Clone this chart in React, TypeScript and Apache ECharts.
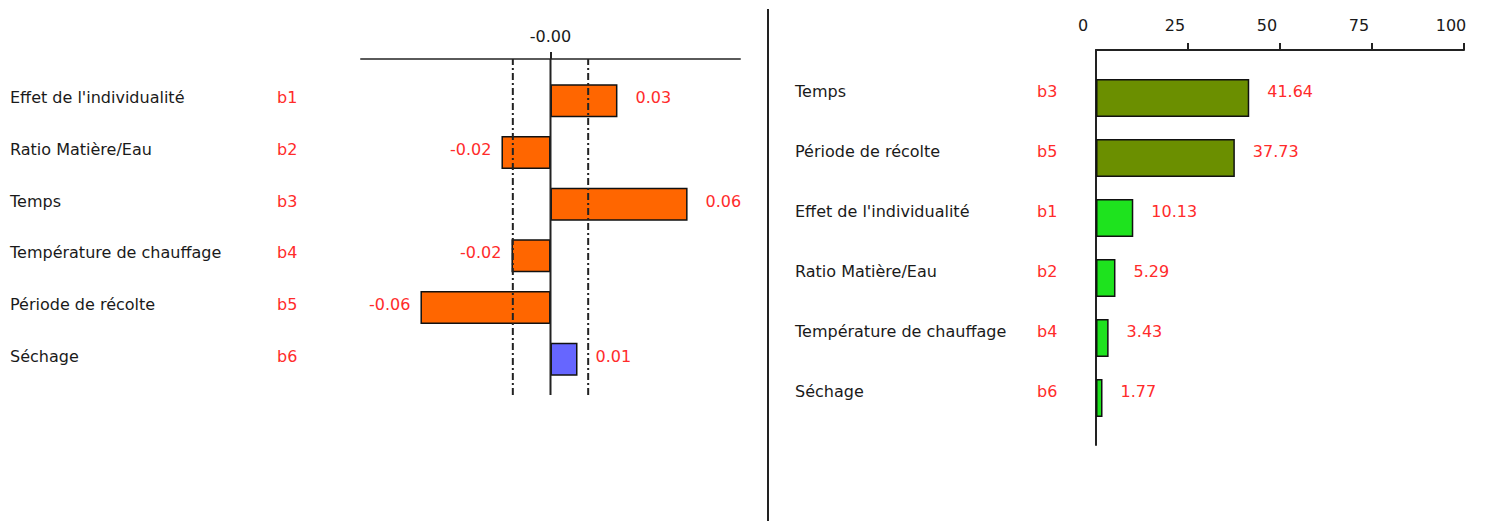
import React, { useEffect, useRef } from "react";
import * as echarts from "echarts";

// ---- Data ----
const leftCategories = [
  "Effet de l'individualité",
  "Ratio Matière/Eau",
  "Temps",
  "Température de chauffage",
  "Période de récolte",
  "Séchage",
];
const leftCodes = ["b1", "b2", "b3", "b4", "b5", "b6"];
const leftValues = [0.0295, -0.0216, 0.0604, -0.0172, -0.0573, 0.0119];
const leftLimits = [-0.0166, 0.0166];
const leftTickValues = [0];
const leftTickLabels = ["-0.00"];

const rightCategories = [
  "Temps",
  "Période de récolte",
  "Effet de l'individualité",
  "Ratio Matière/Eau",
  "Température de chauffage",
  "Séchage",
];
const rightCodes = ["b3", "b5", "b1", "b2", "b4", "b6"];
const rightValues = [41.64, 37.73, 10.13, 5.29, 3.43, 1.77];
const rightTickValues = [0, 25, 50, 75, 100];

// ---- Styles ----
const FONT = "DejaVu Sans";
const FS = 16;
const RED = "#ff2b2b";
const TXT = "#1a1a1a";
const ORANGE = "#ff6600";
const BLUE = "#6666ff";
const OLIVE = "#6b8f00";
const GREEN = "#1ee31e";

const L_MIN = -0.0835;
const L_MAX = 0.0835;

export default function App() {
  const ref = useRef<HTMLDivElement>(null);

  useEffect(() => {
    document.body.style.margin = "0";
    if (!ref.current) return;
    const chart = echarts.init(ref.current, null, { renderer: "svg" });

    const catLabel = (codes: string[], nameWidth: number, margin: number, shift: number) => ({
      show: true,
      align: "left" as const,
      margin,
      formatter: (v: string, i: number) => `{n|${v}}{c|${codes[i]}}`,
      rich: {
        n: { width: nameWidth, color: TXT, fontFamily: FONT, fontSize: FS, padding: [0, 0, shift, 0] },
        c: { color: RED, fontFamily: FONT, fontSize: FS, padding: [0, 0, shift, 0] },
      },
    });

    const option: any = {
      animation: false,
      backgroundColor: "#ffffff",
      textStyle: { fontFamily: FONT },
      grid: [
        { left: 361, width: 379, top: 75, height: 310 },
        { left: 361, width: 379, top: 59, height: 336 },
        { left: 1096, width: 368, top: 68, height: 360 },
        { left: 1096, width: 368, top: 50, height: 395 },
      ],
      xAxis: [
        { gridIndex: 0, type: "value", min: L_MIN, max: L_MAX, show: false },
        {
          gridIndex: 1,
          type: "value",
          min: L_MIN,
          max: L_MAX,
          position: "top",
          splitLine: { show: false },
          axisLine: { show: true, onZero: false, lineStyle: { color: "#5a5a5a", width: 2 } },
          axisTick: { show: true, customValues: leftTickValues, length: 7, lineStyle: { color: "#222", width: 2 } },
          axisLabel: {
            show: true,
            customValues: leftTickValues,
            margin: 15,
            color: TXT,
            fontFamily: FONT,
            fontSize: FS,
            formatter: (v: number) => leftTickLabels[leftTickValues.indexOf(v)] ?? "",
          },
        },
        { gridIndex: 2, type: "value", min: 0, max: 100, show: false },
        {
          gridIndex: 3,
          type: "value",
          min: 0,
          max: 100,
          interval: 25,
          position: "top",
          splitLine: { show: false },
          axisLine: { show: true, onZero: false, lineStyle: { color: "#222", width: 2 } },
          axisTick: { show: true, customValues: rightTickValues.slice(1), length: 7, lineStyle: { color: "#222", width: 2 } },
          axisLabel: {
            show: true,
            customValues: rightTickValues,
            margin: 17,
            color: TXT,
            fontFamily: FONT,
            fontSize: FS,
            padding: [0, 26, 0, 0],
          },
        },
      ],
      yAxis: [
        {
          gridIndex: 0,
          type: "category",
          inverse: true,
          data: leftCategories,
          axisLine: { show: false },
          axisTick: { show: false },
          splitLine: { show: false },
          axisLabel: catLabel(leftCodes, 267, 351, 6),
        },
        { gridIndex: 1, type: "value", min: 0, max: 1, show: false },
        {
          gridIndex: 2,
          type: "category",
          inverse: true,
          data: rightCategories,
          axisLine: { show: false },
          axisTick: { show: false },
          splitLine: { show: false },
          axisLabel: catLabel(rightCodes, 242, 301, 14),
        },
        {
          gridIndex: 3,
          type: "value",
          min: 0,
          max: 1,
          axisLine: { show: true, onZero: false, lineStyle: { color: "#222", width: 2 } },
          axisTick: { show: false },
          axisLabel: { show: false },
          splitLine: { show: false },
        },
      ],
      series: [
        {
          type: "bar",
          xAxisIndex: 0,
          yAxisIndex: 0,
          barWidth: 33,
          z: 2,
          data: leftValues.map((v, i) => ({
            value: v,
            itemStyle: { color: i === 5 ? BLUE : ORANGE, borderColor: "#111", borderWidth: 1.5 },
            label: {
              show: true,
              position: v >= 0 ? "right" : "left",
              distance: v >= 0 ? 18 : 10,
              offset: [0, -3],
              color: RED,
              fontFamily: FONT,
              fontSize: FS,
              formatter: () => v.toFixed(2),
            },
          })),
        },
        {
          type: "line",
          xAxisIndex: 1,
          yAxisIndex: 1,
          symbol: "none",
          z: 5,
          lineStyle: { color: "#222", width: 2, type: "solid" },
          data: [
            [0, 0],
            [0, 1],
          ],
        },
        ...leftLimits.map((lim) => ({
          type: "line",
          xAxisIndex: 1,
          yAxisIndex: 1,
          symbol: "none",
          z: 5,
          lineStyle: { color: "#222", width: 2, type: [7, 3, 2, 3] },
          data: [
            [lim, 0],
            [lim, 1],
          ],
        })),
        {
          type: "bar",
          xAxisIndex: 2,
          yAxisIndex: 2,
          barWidth: 38,
          z: 2,
          data: rightValues.map((v, i) => ({
            value: v,
            itemStyle: { color: i < 2 ? OLIVE : GREEN, borderColor: "#111", borderWidth: 1.5 },
            label: {
              show: true,
              position: "right",
              distance: 18,
              offset: [0, -7],
              color: RED,
              fontFamily: FONT,
              fontSize: FS,
              formatter: () => v.toFixed(2),
            },
          })),
        },
      ],
      graphic: [
        {
          type: "line",
          shape: { x1: 768, y1: 9, x2: 768, y2: 521 },
          style: { stroke: "#222", lineWidth: 2 },
        },
      ],
    };

    chart.setOption(option);
    return () => chart.dispose();
  }, []);

  return <div ref={ref} style={{ width: 1488, height: 521 }} />;
}
